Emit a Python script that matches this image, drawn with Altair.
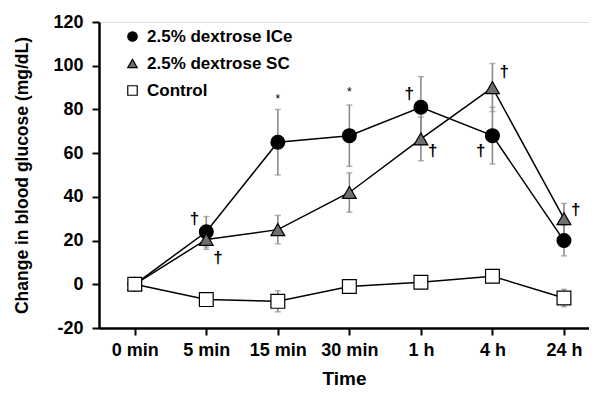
import altair as alt
import pandas as pd

time_labels = ["0 min", "5 min", "15 min", "30 min", "1 h", "4 h", "24 h"]
series_names = ["2.5% dextrose ICe", "2.5% dextrose SC", "Control"]

ice_mean = [0, 24, 65, 68, 81, 68, 20]
ice_err = [0, 7, 15, 14, 14, 13, 7]
sc_mean = [0, 20.5, 25, 42, 66.5, 90, 30]
sc_err = [0, 4.5, 6.5, 9, 10, 11, 7]
ctrl_mean = [0, -7, -7.8, -1, 0.9, 3.7, -6.3]
ctrl_err = [0, 2, 4.8, 3, 3, 3, 4]

# annotations: time index, y value, symbol, side
ann_idx = [1, 1, 2, 3, 4, 4, 5, 5, 6]
ann_y = [30, 12, 85, 88, 87, 61, 61, 97, 34]
ann_sym = ["†", "†", "*", "*", "†", "†", "†", "†", "†"]
ann_side = ["left", "right", "center", "center", "left", "right", "left", "right", "right"]

rows = []
for name, m, e in zip(series_names, [ice_mean, sc_mean, ctrl_mean], [ice_err, sc_err, ctrl_err]):
    for i, (mv, ev) in enumerate(zip(m, e)):
        rows.append({"series": name, "idx": i, "time": time_labels[i], "mean": mv,
                     "lo": mv - ev, "hi": mv + ev, "err": ev})
df = pd.DataFrame(rows)
df_err = df[df["err"] > 0]

ann = pd.DataFrame({"idx": ann_idx, "y": ann_y, "sym": ann_sym, "side": ann_side})

FONT = "Liberation Sans"
label_expr = "[" + ",".join("'%s'" % t for t in time_labels) + "][datum.value]"

xscale = alt.Scale(domain=[-0.5, 6.35], nice=False, zero=False)
yscale = alt.Scale(domain=[-20, 120], nice=False, zero=False)

xenc = alt.X("idx:Q", scale=xscale, title="Time",
             axis=alt.Axis(values=list(range(len(time_labels))), labelExpr=label_expr,
                           grid=False, domainColor="black", domainWidth=2.5,
                           tickColor="black", tickWidth=2, tickSize=7,
                           labelFont=FONT, labelFontWeight="bold", labelFontSize=18,
                           labelColor="black", labelPadding=6,
                           titleFont=FONT, titleFontWeight="bold", titleFontSize=19,
                           titleColor="black", titlePadding=10))
yenc = alt.Y("mean:Q", scale=yscale, title="Change in blood glucose (mg/dL)",
             axis=alt.Axis(values=list(range(-20, 121, 20)), grid=False,
                           labelExpr="'' + datum.value",
                           domainColor="black", domainWidth=2.5,
                           tickColor="black", tickWidth=2, tickSize=7,
                           labelFont=FONT, labelFontWeight="bold", labelFontSize=18,
                           labelColor="black", labelPadding=9,
                           titleFont=FONT, titleFontWeight="bold", titleFontSize=17.5,
                           titleColor="black", titlePadding=21))

color_scale = alt.Scale(domain=series_names, range=["black", "#6f6f6f", "white"])
shape_scale = alt.Scale(domain=series_names, range=["circle", "triangle-up", "square"])

base = alt.Chart(df)

lines = base.mark_line(color="black", strokeWidth=1.5).encode(
    x=xenc, y=yenc, detail="series:N")

bars = alt.Chart(df_err).mark_rule(color="#8c8c8c", strokeWidth=1.6).encode(
    x=alt.X("idx:Q", scale=xscale), y=alt.Y("lo:Q", scale=yscale), y2="hi:Q")
cap_lo = alt.Chart(df_err).mark_tick(color="#8c8c8c", thickness=1.4, size=6,
                                     orient="horizontal").encode(
    x=alt.X("idx:Q", scale=xscale), y=alt.Y("lo:Q", scale=yscale))
cap_hi = alt.Chart(df_err).mark_tick(color="#8c8c8c", thickness=1.4, size=6,
                                     orient="horizontal").encode(
    x=alt.X("idx:Q", scale=xscale), y=alt.Y("hi:Q", scale=yscale))

points = base.mark_point(filled=True, size=190, stroke="black", strokeWidth=1.2,
                         opacity=1).encode(
    x=alt.X("idx:Q", scale=xscale),
    y=alt.Y("mean:Q", scale=yscale),
    shape=alt.Shape("series:N", scale=shape_scale, title=None),
    fill=alt.Fill("series:N", scale=color_scale, title=None,
                  legend=alt.Legend(orient="none", legendX=25, legendY=6,
                                    labelFont=FONT, labelFontWeight="bold",
                                    labelFontSize=17, labelColor="black",
                                    symbolSize=90, symbolStrokeColor="black",
                                    symbolStrokeWidth=1.2, rowPadding=9,
                                    labelOffset=6, symbolOpacity=1)),
)

ann_left = alt.Chart(ann[ann["side"] == "left"]).mark_text(
    font=FONT, fontSize=17, fontWeight="bold", color="black", align="right",
    baseline="middle", dx=-7
).encode(x=alt.X("idx:Q", scale=xscale), y=alt.Y("y:Q", scale=yscale), text="sym:N")
ann_right = alt.Chart(ann[ann["side"] == "right"]).mark_text(
    font=FONT, fontSize=17, fontWeight="bold", color="black", align="left",
    baseline="middle", dx=7
).encode(x=alt.X("idx:Q", scale=xscale), y=alt.Y("y:Q", scale=yscale), text="sym:N")
ann_center = alt.Chart(ann[ann["side"] == "center"]).mark_text(
    font=FONT, fontSize=12, color="black", align="center", baseline="middle"
).encode(x=alt.X("idx:Q", scale=xscale), y=alt.Y("y:Q", scale=yscale), text="sym:N")

chart = alt.layer(lines, bars, cap_lo, cap_hi, points, ann_left, ann_right, ann_center).properties(
    width=581, height=380,
    autosize=alt.AutoSizeParams(type="fit", contains="padding"),
    padding={"left": 5, "top": 5, "right": 0, "bottom": 0},
).configure_view(stroke=None).configure(background="white")

chart.save("out.html", embed_options={"renderer": "svg", "actions": False})
